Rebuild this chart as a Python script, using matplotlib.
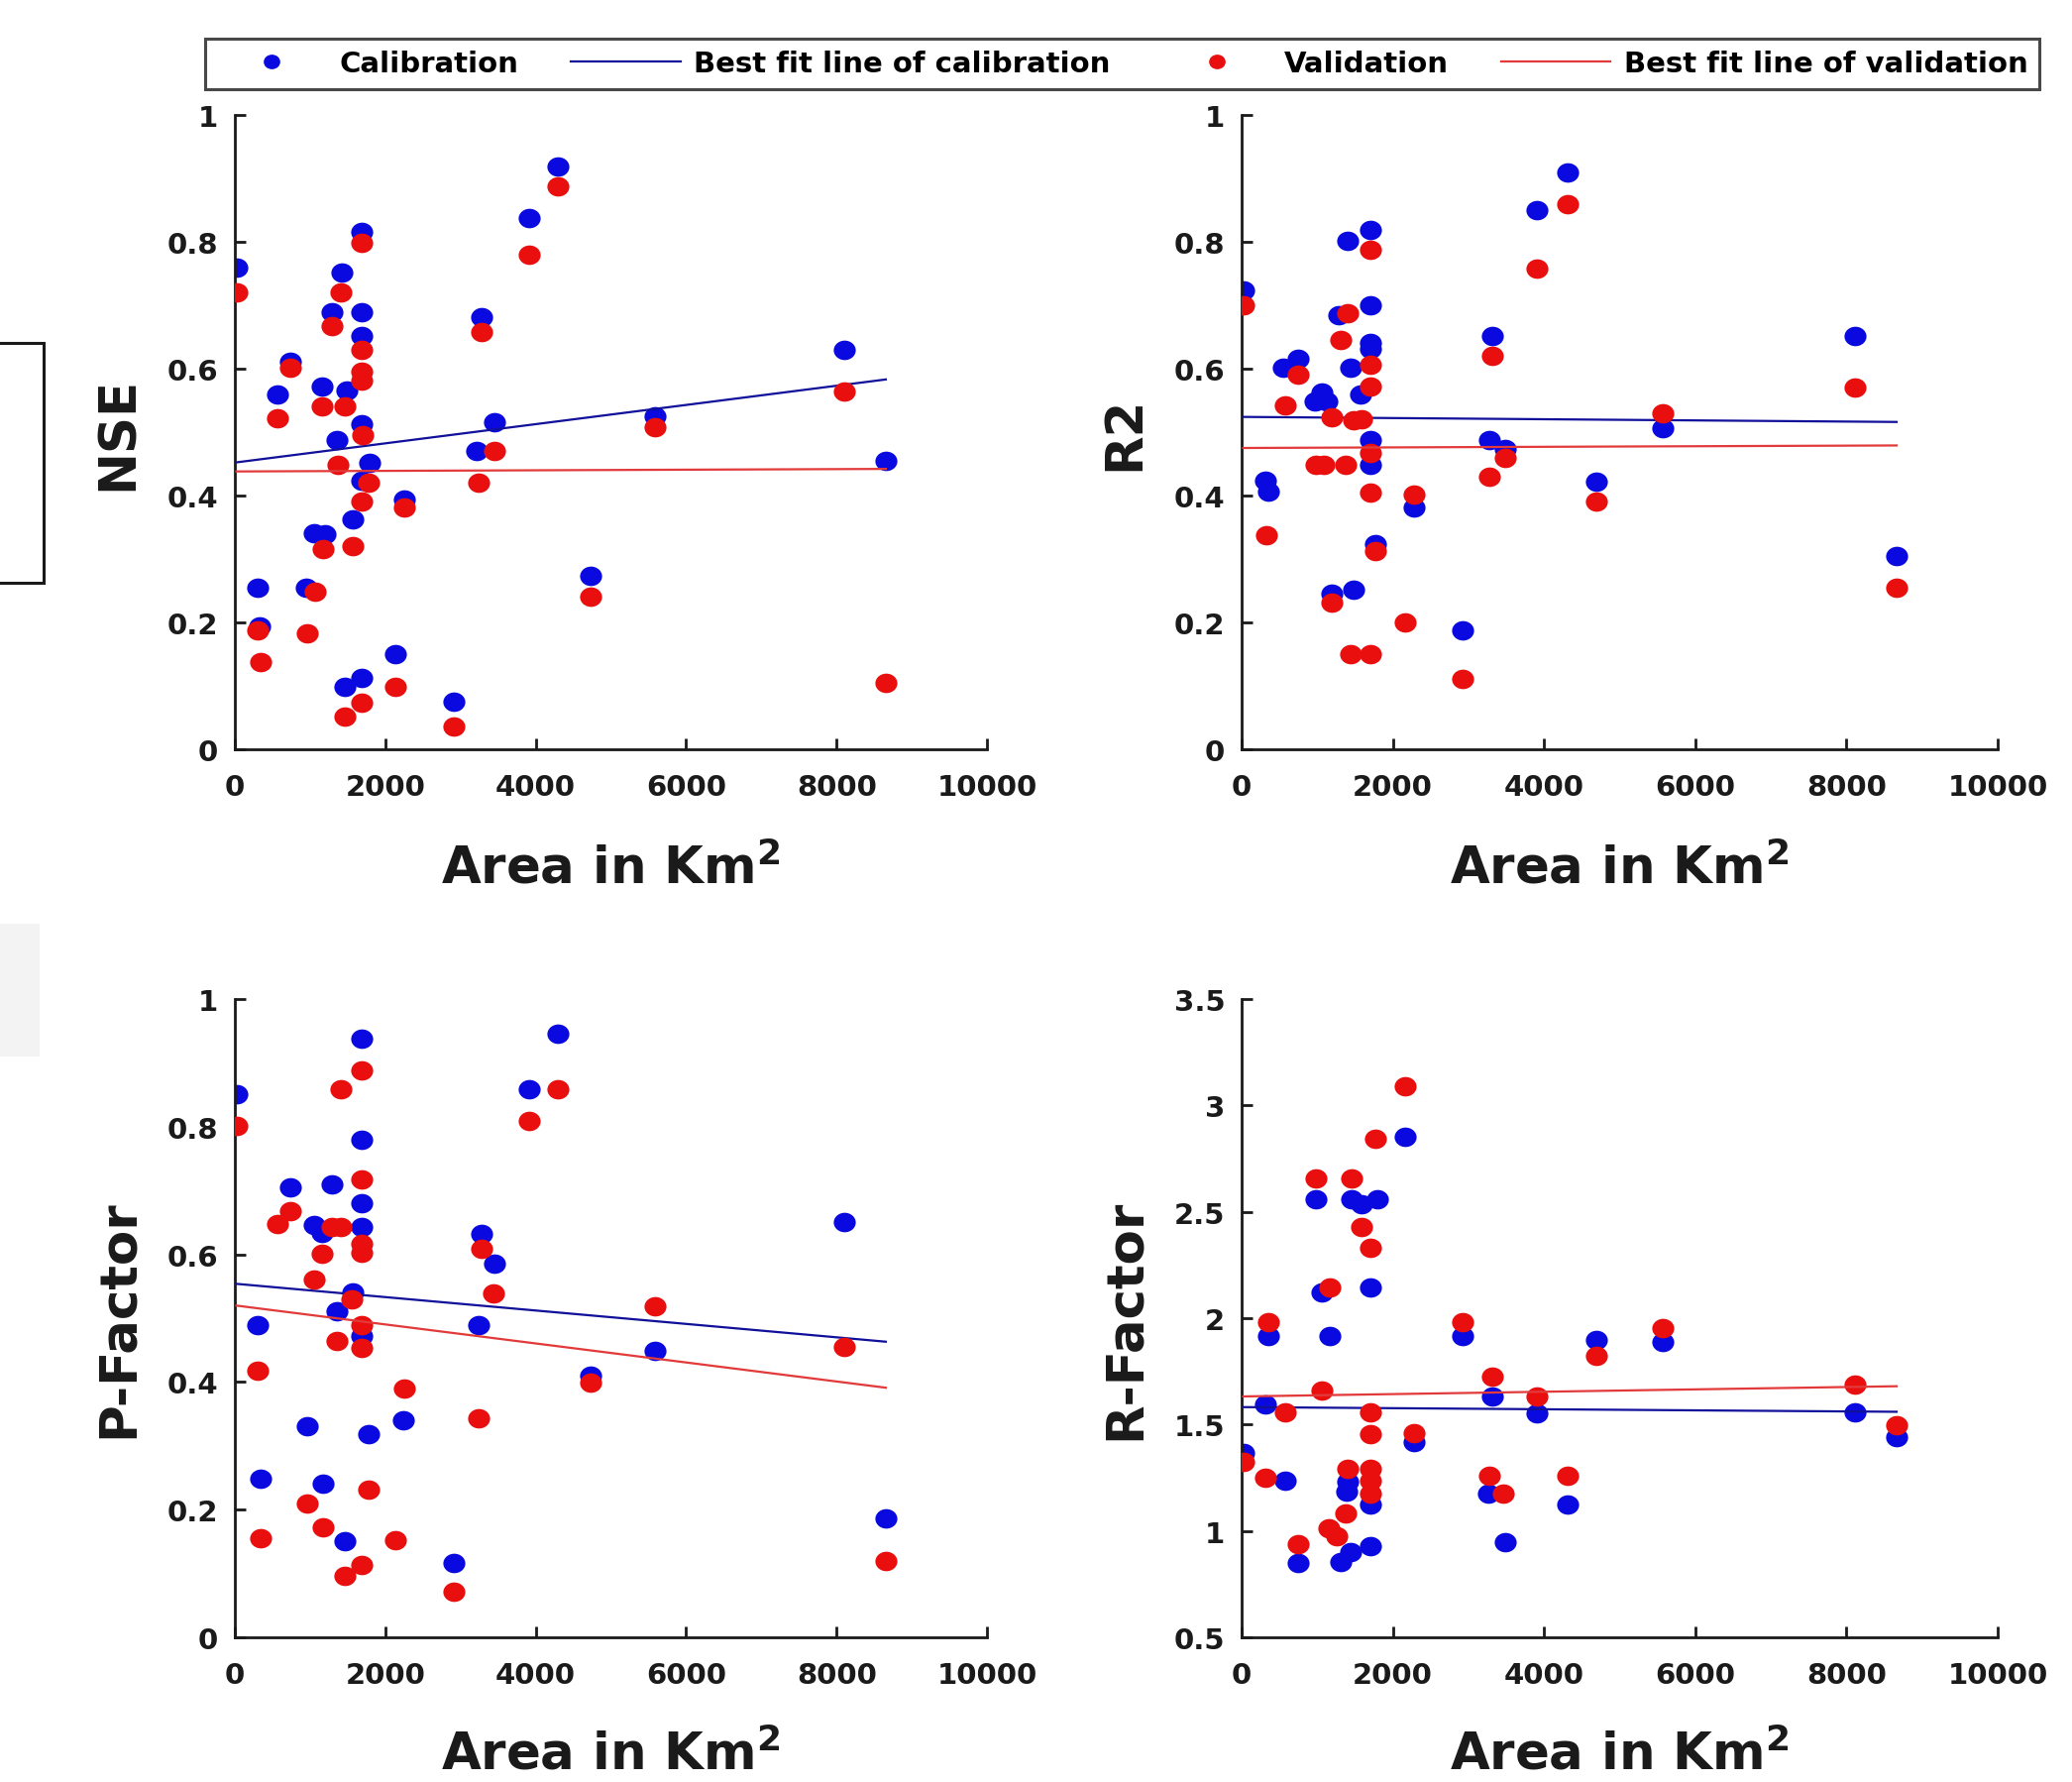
import numpy as np
import matplotlib
matplotlib.use("Agg")
import matplotlib.pyplot as plt
from matplotlib.lines import Line2D
from matplotlib.patches import Rectangle
from matplotlib.path import Path

plt.rcParams['font.family'] = ['DejaVu Sans']
plt.rcParams['font.weight'] = 'bold'
plt.rcParams['mathtext.fontset'] = 'dejavusans'
plt.rcParams['mathtext.default'] = 'bf'

# ---------------- data ----------------
# NSE
nse_cal_x = [21, 297, 324, 572, 738, 945, 1055, 1193, 1159, 1290, 1428, 1483, 1359, 1462, 1572,
             1690, 1690, 1690, 1690, 1793, 1690, 1690, 2138, 2255, 2917, 3221, 3276, 3448, 3917,
             4290, 4724, 5586, 8103, 8655]
nse_cal_y = [0.759, 0.254, 0.193, 0.559, 0.611, 0.254, 0.341, 0.339, 0.572, 0.689, 0.751, 0.566,
             0.487, 0.099, 0.363, 0.816, 0.689, 0.651, 0.512, 0.451, 0.424, 0.112, 0.150, 0.394,
             0.075, 0.471, 0.682, 0.516, 0.838, 0.918, 0.273, 0.525, 0.630, 0.455]
nse_val_x = [21, 297, 338, 572, 738, 966, 1069, 1172, 1159, 1290, 1414, 1469, 1366, 1462, 1572,
             1690, 1690, 1690, 1690, 1703, 1779, 1690, 1690, 2138, 2255, 2917, 3241, 3276, 3448,
             3917, 4290, 4724, 5586, 8103, 8655]
nse_val_y = [0.721, 0.187, 0.138, 0.522, 0.601, 0.183, 0.249, 0.316, 0.541, 0.667, 0.721, 0.541,
             0.449, 0.051, 0.320, 0.799, 0.630, 0.596, 0.582, 0.495, 0.421, 0.391, 0.074, 0.099,
             0.382, 0.036, 0.421, 0.658, 0.471, 0.779, 0.887, 0.240, 0.508, 0.564, 0.104]

# R2
r2_cal_x = [21, 309, 350, 556, 741, 967, 1063, 1132, 1187, 1290, 1406, 1447, 1475, 1571, 1701,
            1701, 1701, 1701, 1701, 1701, 1770, 2284, 2929, 3279, 3313, 3484, 3903, 4307, 4698,
            5576, 8114, 8663]
r2_cal_y = [0.724, 0.424, 0.406, 0.601, 0.616, 0.549, 0.562, 0.549, 0.246, 0.685, 0.801, 0.601,
            0.251, 0.559, 0.818, 0.700, 0.640, 0.631, 0.488, 0.449, 0.323, 0.382, 0.187, 0.488,
            0.651, 0.473, 0.850, 0.909, 0.422, 0.507, 0.651, 0.305]
r2_val_x = [21, 329, 583, 741, 981, 1084, 1187, 1187, 1310, 1406, 1379, 1475, 1584, 1447, 1701,
            1701, 1701, 1701, 1701, 1701, 1770, 2167, 2284, 2929, 3279, 3313, 3484, 3903, 4307,
            4698, 5576, 8114, 8663]
r2_val_y = [0.700, 0.337, 0.542, 0.591, 0.449, 0.449, 0.232, 0.523, 0.646, 0.687, 0.449, 0.519,
            0.521, 0.150, 0.150, 0.787, 0.606, 0.572, 0.467, 0.404, 0.313, 0.200, 0.401, 0.111,
            0.429, 0.620, 0.460, 0.758, 0.859, 0.391, 0.530, 0.570, 0.254]

# P-Factor
pf_cal_x = [21, 297, 338, 738, 966, 1055, 1159, 1172, 1290, 1359, 1462, 1572, 1690, 1690, 1690,
            1690, 1690, 1779, 2241, 2917, 3241, 3276, 3448, 3917, 4290, 4724, 5586, 8103, 8655]
pf_cal_y = [0.851, 0.489, 0.248, 0.705, 0.331, 0.646, 0.633, 0.240, 0.710, 0.511, 0.151, 0.540,
            0.938, 0.779, 0.680, 0.643, 0.472, 0.319, 0.340, 0.116, 0.489, 0.632, 0.585, 0.859,
            0.946, 0.410, 0.448, 0.651, 0.187]
pf_val_x = [21, 297, 338, 572, 738, 966, 1055, 1159, 1172, 1290, 1414, 1414, 1359, 1462, 1552,
            1690, 1690, 1690, 1690, 1690, 1690, 1779, 1690, 2138, 2255, 2917, 3241, 3276, 3434,
            3917, 4290, 4724, 5586, 8103, 8655]
pf_val_y = [0.801, 0.418, 0.156, 0.648, 0.668, 0.210, 0.560, 0.601, 0.173, 0.643, 0.859, 0.643,
            0.465, 0.097, 0.529, 0.888, 0.717, 0.616, 0.603, 0.489, 0.453, 0.232, 0.113, 0.152,
            0.390, 0.072, 0.343, 0.609, 0.539, 0.809, 0.859, 0.399, 0.519, 0.455, 0.119]

# R-Factor
rf_cal_x = [21, 309, 350, 583, 741, 981, 1063, 1173, 1310, 1392, 1406, 1461, 1584, 1790, 1447,
            1701, 1701, 1701, 2167, 2284, 2929, 3258, 3313, 3484, 3903, 4307, 4698, 5576, 8114,
            8663]
rf_cal_y = [1.365, 1.596, 1.914, 1.234, 0.848, 2.557, 2.123, 1.918, 0.852, 1.184, 1.230, 2.557,
            2.537, 2.557, 0.902, 0.928, 2.143, 1.123, 2.853, 1.419, 1.914, 1.174, 1.632, 0.948,
            1.552, 1.123, 1.898, 1.888, 1.556, 1.441]
rf_val_x = [21, 309, 350, 583, 741, 981, 1063, 1173, 1152, 1255, 1379, 1406, 1461, 1584, 1701,
            1701, 1701, 1701, 1701, 1701, 1770, 2167, 2284, 2929, 3279, 3313, 3464, 3903, 4307,
            4698, 5576, 8114, 8663]
rf_val_y = [1.324, 1.250, 1.982, 1.556, 0.936, 2.658, 1.660, 2.143, 1.013, 0.973, 1.083, 1.294,
            2.658, 2.430, 2.330, 1.556, 1.455, 1.294, 1.234, 1.174, 2.843, 3.090, 1.459, 1.982,
            1.258, 1.727, 1.174, 1.632, 1.258, 1.821, 1.954, 1.686, 1.495]

# best-fit line coefficients [slope, intercept]
fit_nse_cal = [1.514e-5, 0.452]
fit_nse_val = [4.6e-7, 0.438]
fit_r2_cal = [-9.2e-7, 0.524]
fit_r2_val = [4.6e-7, 0.475]
fit_pf_cal = [-1.05e-5, 0.554]
fit_pf_val = [-1.49e-5, 0.520]
fit_rf_cal = [-2.54e-6, 1.582]
fit_rf_val = [5.55e-6, 1.632]

x_ticks = [0, 2000, 4000, 6000, 8000, 10000]
y_ticks_01 = [0, 0.2, 0.4, 0.6, 0.8, 1]
y_ticklabels_01 = ['0', '0.2', '0.4', '0.6', '0.8', '1']
y_ticks_rf = [0.5, 1, 1.5, 2, 2.5, 3, 3.5]
y_ticklabels_rf = ['0.5', '1', '1.5', '2', '2.5', '3', '3.5']

legend_labels = ['Calibration', 'Best fit line of calibration', 'Validation',
                 'Best fit line of validation']

# ---------------- styling ----------------
CAL_C = '#0a0ae0'
VAL_C = '#ea0f0f'
CAL_LINE = '#10109a'
VAL_LINE = '#e23a3a'
MS = 16

# slightly wide elliptical dot (the original figure was stretched horizontally)
_c = Path.unit_circle()
ELLIPSE = Path(_c.vertices * np.array([1.13, 1.0]), _c.codes)

W, H = 2091, 1799
fig = plt.figure(figsize=(W / 100, H / 100), dpi=100)


def fpos(x0, y0, x1, y1):
    return [x0 / W, 1 - y1 / H, (x1 - x0) / W, (y1 - y0) / H]


panels = [
    (fpos(237, 117, 996, 757), 'NSE', nse_cal_x, nse_cal_y, nse_val_x, nse_val_y,
     fit_nse_cal, fit_nse_val, (0, 1), y_ticks_01, y_ticklabels_01, -0.188),
    (fpos(1253, 117, 2016, 757), 'R2', r2_cal_x, r2_cal_y, r2_val_x, r2_val_y,
     fit_r2_cal, fit_r2_val, (0, 1), y_ticks_01, y_ticklabels_01, -0.188),
    (fpos(237, 1009, 996, 1653), 'P-Factor', pf_cal_x, pf_cal_y, pf_val_x, pf_val_y,
     fit_pf_cal, fit_pf_val, (0, 1), y_ticks_01, y_ticklabels_01, -0.183),
    (fpos(1253, 1009, 2016, 1653), 'R-Factor', rf_cal_x, rf_cal_y, rf_val_x, rf_val_y,
     fit_rf_cal, fit_rf_val, (0.5, 3.5), y_ticks_rf, y_ticklabels_rf, -0.183),
]

for pos, ylab, cx, cy, vx, vy, fc, fv, ylim, yt, ytl, xly in panels:
    ax = fig.add_axes(pos)
    ax.plot(cx, cy, ls='none', marker=ELLIPSE, color=CAL_C, ms=MS, mec='none', zorder=2)
    xs = np.array([min(cx), max(cx)])
    ax.plot(xs, np.polyval(fc, xs), '-', color=CAL_LINE, lw=1.6, zorder=3)
    ax.plot(vx, vy, ls='none', marker=ELLIPSE, color=VAL_C, ms=MS, mec='none', zorder=4)
    xs = np.array([min(vx), max(vx)])
    ax.plot(xs, np.polyval(fv, xs), '-', color=VAL_LINE, lw=1.6, zorder=5)
    ax.set_xlim(0, 10000)
    ax.set_ylim(*ylim)
    ax.set_xticks(x_ticks)
    ax.set_xticklabels([str(t) for t in x_ticks])
    ax.set_yticks(yt)
    ax.set_yticklabels(ytl)
    for s in ['top', 'right']:
        ax.spines[s].set_visible(False)
    for s in ['left', 'bottom']:
        ax.spines[s].set_linewidth(2.0)
        ax.spines[s].set_color('#1a1a1a')
    ax.tick_params(direction='in', length=8, width=2, labelsize=21, colors='#1a1a1a')
    ax.tick_params(axis='x', pad=17)
    ax.tick_params(axis='y', pad=12)
    for lab in ax.get_xticklabels() + ax.get_yticklabels():
        lab.set_fontweight('bold')
    ax.set_ylabel(ylab, fontsize=37, fontweight='bold', va='center', color='#1a1a1a')
    ax.yaxis.set_label_coords(-117 / 759, 0.5)
    ax.set_xlabel('Area in Km$^{2}$', fontsize=37, fontweight='bold', va='center',
                  color='#1a1a1a')
    ax.xaxis.set_label_coords(0.5, xly)
    ax.set_facecolor('none')

handles = [
    Line2D([], [], ls='none', marker=ELLIPSE, color=CAL_C, ms=12, mec='none'),
    Line2D([], [], ls='-', color=CAL_LINE, lw=1.6),
    Line2D([], [], ls='none', marker=ELLIPSE, color=VAL_C, ms=12, mec='none'),
    Line2D([], [], ls='-', color=VAL_LINE, lw=1.6),
]
leg = fig.legend(handles, legend_labels, loc='lower left',
                 bbox_to_anchor=(207 / W, 1 - 91 / H, (2058 - 207) / W, 62 / H),
                 mode='expand', ncol=4, prop={'weight': 'bold', 'size': 21},
                 frameon=True, fancybox=False, handlelength=3.8, handletextpad=0.45,
                 borderaxespad=0, borderpad=0.4, columnspacing=0.3)
leg.get_frame().set_edgecolor('#1a1a1a')
leg.get_frame().set_linewidth(2.2)

# stray box and faint patch at the left edge of the original figure
fig.add_artist(Rectangle((-0.01, 1 - 589 / H), 0.01 + 44 / W, (589 - 347) / H,
                         transform=fig.transFigure, fill=False, ec='#1a1a1a', lw=2.2))
fig.add_artist(Rectangle((0, 1 - 1067 / H), 40 / W, (1067 - 933) / H,
                         transform=fig.transFigure, fc='#f3f3f3', ec='none'))

fig.savefig('out.png', dpi=100)
